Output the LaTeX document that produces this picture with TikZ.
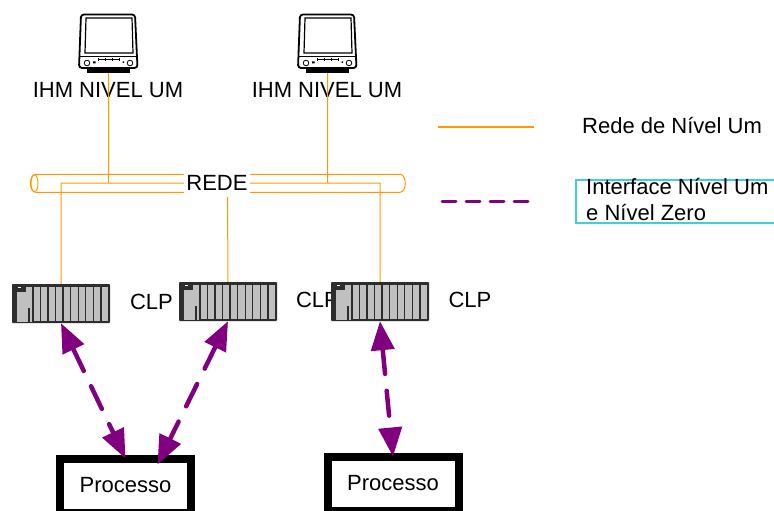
\documentclass[tikz,border=0pt]{standalone}
\usepackage{fontspec}
\setmainfont{Liberation Sans}
\usepackage{tikz}
\usetikzlibrary{arrows.meta}

\definecolor{rede}{RGB}{255,153,0}
\definecolor{roxo}{RGB}{128,0,128}
\definecolor{ciano}{RGB}{64,208,208}
\definecolor{rackgray}{RGB}{192,192,192}
\definecolor{rackdark}{RGB}{45,45,45}

\tikzset{
  monitor/.pic={
    \node[inner sep=0,minimum width=59pt,minimum height=60pt] (-box) at (0,0) {};
    \fill (-21.5,25) rectangle (21.5,30);
    \draw[line width=1.8pt,fill=white,rounded corners=3pt]
      (-27.5,-28.5) -- (26.5,-28.5) -- (29,25) -- (-29.5,25) -- cycle;
    \draw[line width=1.2pt] (-22.5,-25) -- (23.5,-25) -- (24.5,10) -- (-23.5,10) -- cycle;
    \draw[line width=1pt] (-29,14) -- (28.5,14);
    \draw[line width=.8pt] (-21.5,20) circle (2.8) (21.5,20) circle (2.8);
    \fill (-15.5,18.5) rectangle (-13,20.5) (14,18.5) rectangle (15.5,20);
    \draw[line width=1.2pt] (-10,16.5) -- (10.5,16.5);
    \foreach \bx in {-10,-3,4,10.5}
      \draw[line width=.7pt] (\bx,15) -- (\bx,18);
  },
  rack/.pic={
    \node[inner sep=0,minimum width=98pt,minimum height=39pt] (-box) at (0,0) {};
    \fill[rackdark,rounded corners=.8pt] (-49,-19.5) rectangle (49,19.5);
    \fill[rackgray] (-44,-17) rectangle (-29.5,18);
    \fill[rackdark] (-44,-17) rectangle (-35,-12);
    \fill[white] (-43,-17) rectangle (-40,-15.5);
    \fill[rackdark] (-33.5,4) rectangle (-31,18);
    \foreach \mx in {0,...,9}
      \fill[rackgray] ({-27.5+\mx*7.56},-17) rectangle ({-21.2+\mx*7.56},17.5);
  }
}

\begin{document}
\begin{tikzpicture}
  [x=1pt,y=-1pt,every node/.style={font=\fontsize{22}{26}\selectfont,inner sep=0}]

  \tikzstyle{nivel1} = [draw=rede,line width=1pt]
  \tikzstyle{nivel0} = [draw=roxo,line width=4.5pt,line cap=round,dash pattern=on 25pt off 17pt,
                        {Triangle[length=29pt,width=23pt]}-{Triangle[length=29pt,width=23pt]}]
  \tikzstyle{processo} = [draw,line width=8pt,outer sep=0,
                          minimum width=131pt,minimum height=54pt]

  \useasboundingbox (0,0) rectangle (774,511);

  \pic (mon1) at (108.5,43) {monitor};
  \pic (mon2) at (327.5,43) {monitor};
  \node (ihm1) at (108,90) {IHM NIVEL UM};
  \node (ihm2) at (327,90) {IHM NIVEL UM};

  \draw[nivel1] (36,174.3) -- (400,174.3) .. controls (407,174.3) and (407,192.3) .. (400,192.3)
        -- (36,192.3) .. controls (28.5,192.3) and (28.5,174.3) .. (36,174.3);
  \draw[nivel1] (34.5,183.3) ellipse [x radius=3.5,y radius=8.5];

  \coordinate (bus1) at (61,183);
  \coordinate (bus2) at (380,183);
  \coordinate (bus3) at (227.5,197);

  \node (clp1) at (151.5,302) {CLP};
  \node (clp2) at (317.5,300) {CLP};
  \node (clp3) at (470,300) {CLP};

  \pic (rack1) at (61,303.5) {rack};
  \pic (rack2) at (228,301.5) {rack};
  \pic (rack3) at (380,301.5) {rack};

  \node[processo,text width=115pt,align=center] (proc1) at (125.5,485.5) {Processo};
  \node[processo,text width=115pt,align=center] (proc2) at (393,483.5) {Processo};

  \path[nivel1]
        (mon1-box.south) -- (mon1-box.south |- bus1)
        (mon2-box.south) -- (mon2-box.south |- bus1)
        (rack1-box.north) -- (bus1) -- (bus2) -- (rack3-box.north)
        (bus3) -- (rack2-box.north);

  \node[fill=white,inner xsep=2pt,inner ysep=3pt] (rede) at (217,182.5) {REDE};

  \draw[nivel0] (rack1-box.south) -- (proc1.north);
  \draw[nivel0] (rack2-box.south) -- ([xshift=32pt,yshift=-6pt]proc1.north);
  \draw[nivel0] (rack3-box.south) -- (proc2.north);

  \coordinate (leg1) at (438,127);
  \coordinate (leg2) at (534,127);
  \coordinate (leg3) at (442,201);
  \coordinate (leg4) at (530,201);
  \draw[draw=rede,line width=1.5pt] (leg1) -- (leg2);
  \draw[draw=roxo,line width=3pt,line cap=round,dash pattern=on 14pt off 10pt] (leg3) -- (leg4);

  \node[anchor=west] (txt1) at (582,126) {Rede de Nível Um};
  \node[draw=ciano,line width=2pt,minimum width=215pt,minimum height=43pt,anchor=west] (caixa) at (575,201) {};
  \node[anchor=west,align=left] (txt2) at (586,200) {Interface Nível Um\\e Nível Zero};
\end{tikzpicture}
\end{document}
